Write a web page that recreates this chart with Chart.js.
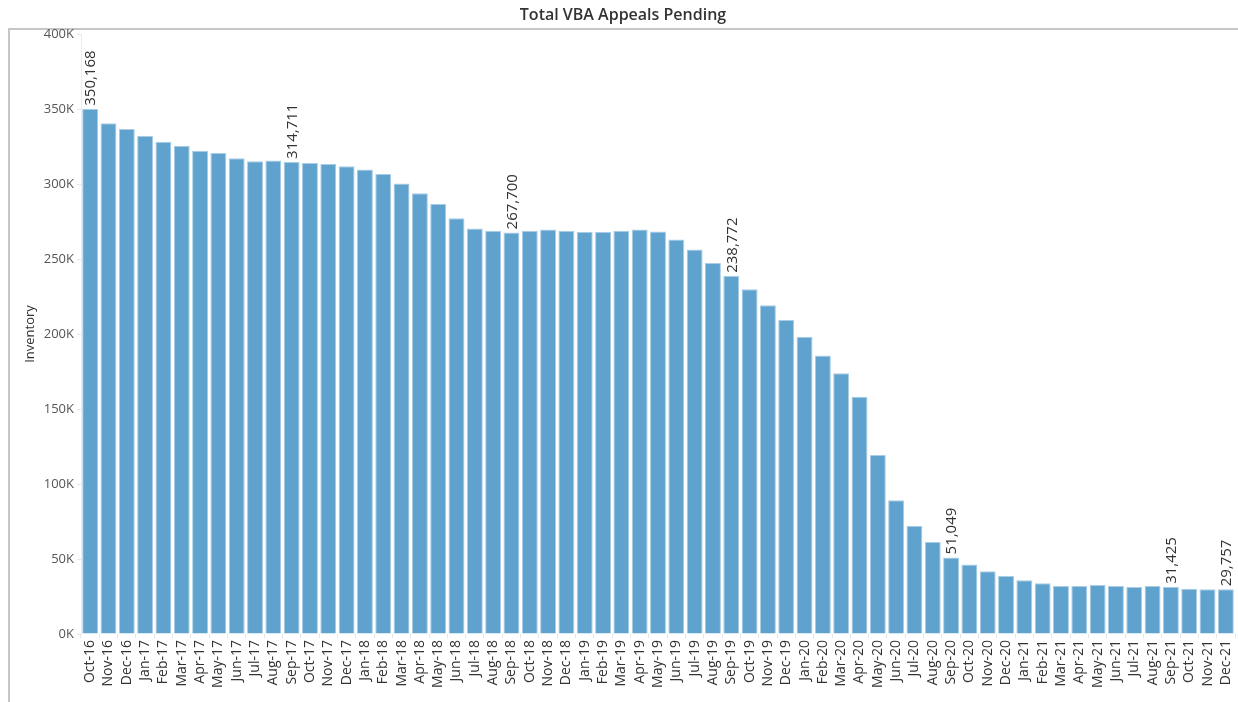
<!DOCTYPE html>
<html>
<head>
<meta charset="utf-8">
<script src="https://cdn.jsdelivr.net/npm/chart.js@4"></script>
<style>
  html, body { margin: 0; padding: 0; background: #fff; }
  #wrap { width: 1238px; height: 702px; }
</style>
</head>
<body>
<div id="wrap"><canvas id="appealsChart" width="1238" height="702"></canvas></div>
<script>
// months on the x axis
const months = [
  "Oct-16", "Nov-16", "Dec-16",
  "Jan-17", "Feb-17", "Mar-17", "Apr-17", "May-17", "Jun-17", "Jul-17", "Aug-17", "Sep-17", "Oct-17", "Nov-17", "Dec-17",
  "Jan-18", "Feb-18", "Mar-18", "Apr-18", "May-18", "Jun-18", "Jul-18", "Aug-18", "Sep-18", "Oct-18", "Nov-18", "Dec-18",
  "Jan-19", "Feb-19", "Mar-19", "Apr-19", "May-19", "Jun-19", "Jul-19", "Aug-19", "Sep-19", "Oct-19", "Nov-19", "Dec-19",
  "Jan-20", "Feb-20", "Mar-20", "Apr-20", "May-20", "Jun-20", "Jul-20", "Aug-20", "Sep-20", "Oct-20", "Nov-20", "Dec-20",
  "Jan-21", "Feb-21", "Mar-21", "Apr-21", "May-21", "Jun-21", "Jul-21", "Aug-21", "Sep-21", "Oct-21", "Nov-21", "Dec-21"
];

// pending appeals inventory (labelled ones exact)
const inventory = [
  350168, 340500, 336700,
  332200, 328200, 325500, 322200, 320700, 317100, 315100, 315600, 314711, 314000, 313300, 311800,
  309600, 306700, 300400, 293800, 286700, 277100, 270400, 268900, 267700, 268900, 269600, 268900,
  268200, 268200, 268900, 269700, 268300, 263000, 256300, 247400, 238772, 229800, 219100, 209300,
  198200, 185600, 173800, 158200, 119300, 89100, 72200, 61300, 51049, 46300, 41900, 38700,
  35900, 33800, 32000, 32000, 32700, 32000, 31300, 32000, 31425, 30200, 29800, 29757
];

// bars that carry a value label
const labeledMonths = ["Oct-16", "Sep-17", "Sep-18", "Sep-19", "Sep-20", "Sep-21", "Dec-21"];

// y axis ticks
const yTicks = [0, 50000, 100000, 150000, 200000, 250000, 300000, 350000, 400000];

const FONT = "'Open Sans', 'Noto Sans', sans-serif";

// frame lines and title like the dashboard sheet
const frame = {
  id: "frame",
  beforeDraw(chart) {
    const c = chart.ctx;
    c.save();
    c.fillStyle = "#fff";
    c.fillRect(0, 0, chart.width, chart.height);
    c.strokeStyle = "#c6c6c6";
    c.lineWidth = 2;
    c.beginPath();
    c.moveTo(8, 29);
    c.lineTo(chart.width, 29);
    c.moveTo(9, 29);
    c.lineTo(9, chart.height);
    c.stroke();
    c.fillStyle = "#333";
    c.font = "600 16px " + FONT;
    c.textAlign = "center";
    c.textBaseline = "middle";
    c.fillText("Total VBA Appeals Pending", 623, 15);
    c.restore();
  }
};

// rotated value labels above selected bars
const valueLabels = {
  id: "valueLabels",
  afterDatasetsDraw(chart) {
    const c = chart.ctx;
    const meta = chart.getDatasetMeta(0);
    c.save();
    c.fillStyle = "#333";
    c.font = "15px " + FONT;
    c.textAlign = "left";
    c.textBaseline = "middle";
    labeledMonths.forEach(m => {
      const i = months.indexOf(m);
      const bar = meta.data[i];
      c.save();
      c.translate(bar.x, bar.y - 3);
      c.rotate(-Math.PI / 2);
      c.fillText(inventory[i].toLocaleString("en-US"), 0, 1);
      c.restore();
    });
    c.restore();
  }
};

new Chart(document.getElementById("appealsChart"), {
  type: "bar",
  data: {
    labels: months,
    datasets: [{
      data: inventory,
      backgroundColor: "#5fa2ce",
      borderColor: "#a9cde6",
      borderWidth: 1,
      barPercentage: 0.87,
      categoryPercentage: 1.0
    }]
  },
  options: {
    responsive: false,
    animation: false,
    layout: { padding: { left: 10, right: 3, top: 34, bottom: 0 } },
    plugins: {
      legend: { display: false },
      title: { display: false },
      tooltip: { enabled: false }
    },
    scales: {
      x: {
        offset: true,
        grid: { display: true, drawOnChartArea: false, tickLength: 4, color: "#e6e6e6" },
        border: { display: false },
        ticks: {
          autoSkip: false,
          minRotation: 90,
          maxRotation: 90,
          padding: 2,
          color: "#333",
          font: { family: FONT, size: 14 }
        },
        afterFit(scale) {
          scale.height = 68;
          scale.paddingLeft = 0;
          scale.paddingRight = 0;
        }
      },
      y: {
        min: 0,
        max: 400000,
        afterBuildTicks(scale) { scale.ticks = yTicks.map(v => ({ value: v })); },
        grid: { display: true, drawOnChartArea: false, tickLength: 4, color: "#e6e6e6" },
        border: { display: true, color: "#ececec" },
        ticks: {
          padding: 3,
          color: "#555",
          font: { family: FONT, size: 13 },
          callback: v => (v / 1000) + "K"
        },
        title: {
          display: true,
          text: "Inventory",
          color: "#333",
          font: { family: FONT, size: 13 },
          padding: { top: 12, bottom: 0 }
        },
        afterFit(scale) { scale.width = 71; }
      }
    }
  },
  plugins: [frame, valueLabels]
});
</script>
</body>
</html>
